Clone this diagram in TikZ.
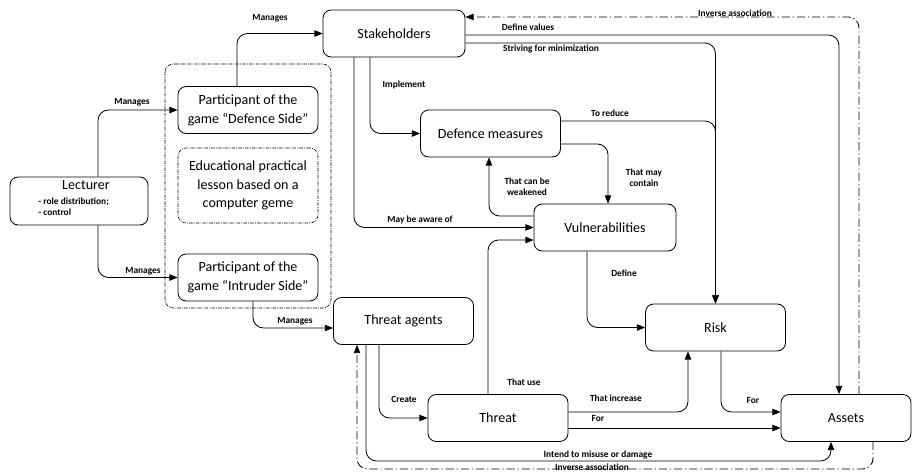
\documentclass[tikz,border=0pt]{standalone}
\usepackage{fontspec}
\setmainfont{Carlito}
\usetikzlibrary{arrows.meta, positioning, calc}
\tikzset{
  box/.style={draw, line width=0.7pt, rounded corners=7pt, fill=white,
              minimum width=4.2cm, minimum height=1.41cm, align=center,
              font=\fontsize{12}{16}\selectfont},
  grp/.style={draw, line width=0.5pt, rounded corners=7pt,
              dash pattern=on 3pt off 1pt on 0.8pt off 1pt},
  arrow/.style={-{Triangle[length=7pt,width=5.5pt]}, line width=0.7pt, rounded corners=9pt},
  inv/.style={arrow, dash pattern=on 7pt off 2.5pt on 1pt off 2.5pt},
  lbl/.style={font=\fontsize{8}{9.5}\selectfont\bfseries, align=center, inner sep=1pt},
}
\begin{document}
\begin{tikzpicture}[x=0.03cm, y=-0.03cm]
\useasboundingbox (0,0) rectangle (912,473);
\draw[grp] (165,64) rectangle (331,308);
\node[box, minimum width=4.14cm, minimum height=1.44cm] (lect) at (79,201) {};
\node[font=\fontsize{12}{16}\selectfont] (lectT) at (86,185) {Lecturer};
\node[lbl, anchor=west, align=left] (lectB) at (37,207) {- role distribution;\\- control};
\node[box] (pdef) at (248,110) {Participant of the\\game “Defence Side”};
\node[box, grp, minimum height=2.25cm] (edu) at (248,185.5) {Educational practical\\lesson based on a\\computer geme};
\node[box] (pint) at (248,277.5) {Participant of the\\game “Intruder Side”};
\node[box, minimum width=4.26cm] (stake) at (394,33.5) {Stakeholders};
\node[box] (defm) at (490.5,133.5) {Defence measures};
\node[box, minimum width=4.26cm] (vuln) at (605,227.5) {Vulnerabilities};
\node[box] (tagt) at (403.5,321) {Threat agents};
\node[box] (thr) at (498,418) {Threat};
\node[box] (risk) at (715.5,327.5) {Risk};
\node[box, minimum width=3.9cm] (assets) at (846,418) {Assets};

\draw[arrow] (lect.north -| 98,0) |- (pdef.west);
\draw[arrow] (lect.south -| 98,0) |- (pint.west);
\draw[arrow] (pdef.north -| 237,0) |- (stake.west);
\draw[arrow] (pint.south -| 253,0) |- ($(tagt.west)+(0,7)$);
\draw[arrow] (stake.south -| 370,0) |- (defm.west);
\draw[arrow] (stake.south -| 354,0) |- (vuln.west);
\draw[arrow] (stake.east |- 0,35) -| (assets.north -| 839,0);
\draw[arrow] (stake.east |- 0,43) -| (risk.north);
\draw[arrow] (defm.east |- 0,121) -| (risk.north);
\draw[arrow] (defm.east |- 0,144) -| (vuln.north -| 608,0);
\draw[arrow] (vuln.west |- 0,216) -| (defm.south -| 489,0);
\draw[arrow] (vuln.south -| 587,0) |- (risk.west);
\draw[arrow] (tagt.south -| 379,0) |- (thr.west);
\draw[arrow] (thr.north -| 488,0) |- (vuln.west |- 0,240);
\draw[arrow] (thr.east |- 0,412) -| (risk.south -| 688,0);
\draw[arrow] (thr.east |- 0,428) -- (assets.west |- 0,428);
\draw[arrow] (risk.south -| 721,0) |- (assets.west |- 0,412);
\draw[arrow] (tagt.south -| 366,0) |- (831,461) -- (assets.south -| 831,0);
\draw[inv] (assets.north -| 859,0) |- (stake.east |- 0,17);
\draw[inv] (assets.south -| 873,0) |- (357,469) -- (tagt.south -| 357,0);

\node[lbl] (mng1) at (132,102) {Manages};
\node[lbl] (mng2) at (143,271) {Manages};
\node[lbl] (mng3) at (270,18) {Manages};
\node[lbl] (mng4) at (295,321) {Manages};
\node[lbl] (impl) at (404,85) {Implement};
\node[lbl] (aware) at (420,220) {May be aware of};
\node[lbl] (defv) at (528,27) {Define values};
\node[lbl] (striv) at (551,49) {Striving for minimization};
\node[lbl] (reduce) at (610,113) {To reduce};
\node[lbl] (contain) at (644,178) {That may\\contain};
\node[lbl] (weak) at (527,187) {That can be\\weakened};
\node[lbl] (define) at (624,273) {Define};
\node[lbl] (create) at (404,399) {Create};
\node[lbl] (use) at (524,382) {That use};
\node[lbl] (incr) at (616,398) {That increase};
\node[lbl] (for1) at (598,418) {For};
\node[lbl] (for2) at (753,400) {For};
\node[lbl] (misuse) at (598,455) {Intend to misuse or damage};
\node[lbl] (inv1) at (735,13) {Inverse association};
\node[lbl] (inv2) at (592,467) {Inverse association};
\end{tikzpicture}
\end{document}
